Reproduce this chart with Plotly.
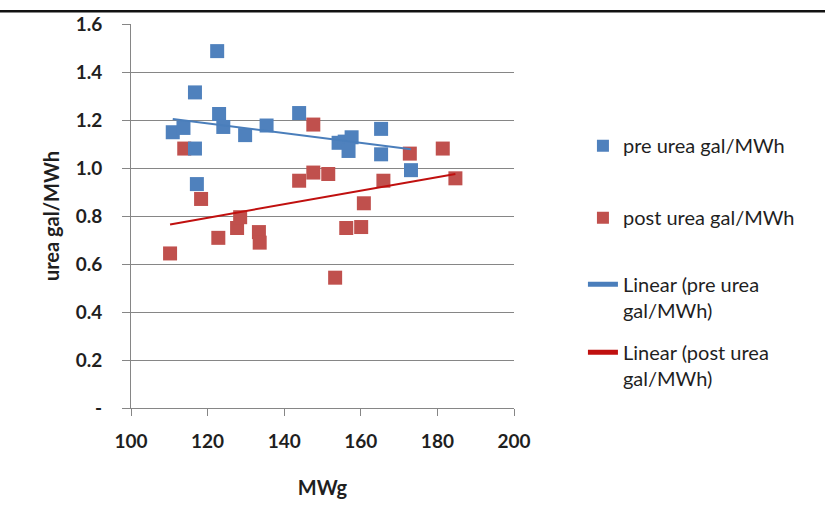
import numpy as np
import plotly.graph_objects as go

# --- data ---
pre_mwg = [110.9, 113.7, 116.7, 116.7, 117.2, 122.5, 123.0, 124.1, 129.8, 135.4,
           143.9, 154.2, 155.8, 156.8, 157.6, 165.3, 165.3, 173.1]
pre_urea = [1.149, 1.167, 1.315, 1.081, 0.933, 1.487, 1.225, 1.171, 1.137, 1.177,
            1.229, 1.105, 1.110, 1.071, 1.128, 1.163, 1.057, 0.991]

post_mwg = [110.2, 113.9, 118.3, 122.8, 127.7, 128.5, 133.4, 133.6, 143.9, 147.6,
            147.6, 151.5, 153.3, 156.2, 160.1, 160.8, 165.9, 172.8, 181.4, 184.7]
post_urea = [0.644, 1.081, 0.871, 0.709, 0.750, 0.795, 0.733, 0.689, 0.947, 1.181,
             0.981, 0.975, 0.543, 0.750, 0.754, 0.853, 0.947, 1.060, 1.081, 0.957]

y_ticks = [0, 0.2, 0.4, 0.6, 0.8, 1.0, 1.2, 1.4, 1.6]
y_tick_text = ["-", "0.2", "0.4", "0.6", "0.8", "1.0", "1.2", "1.4", "1.6"]
x_ticks = [100, 120, 140, 160, 180, 200]

names = ["pre urea gal/MWh", "post urea gal/MWh",
         "Linear (pre urea<br>gal/MWh)", "Linear (post urea<br>gal/MWh)"]

BLUE = "#4F81BD"
RED = "#C0504D"
BLUE_LINE = "#4A7EBB"
RED_LINE = "#C0100F"
FONT = "Lato, 'Open Sans', sans-serif"
TXT = "#1f1f1f"


def trend(xs, ys):
    slope, intercept = np.polyfit(xs, ys, 1)
    xx = np.array([min(xs), max(xs)])
    return xx, slope * xx + intercept


fig = go.Figure()

tx_pre, ty_pre = trend(pre_mwg, pre_urea)
tx_post, ty_post = trend(post_mwg, post_urea)

fig.add_trace(go.Scatter(x=post_mwg, y=post_urea, mode="markers", name=names[1],
                         legendgroup="b", legendrank=2, legend="legend",
                         marker=dict(symbol="square", size=14, color=RED)))
fig.add_trace(go.Scatter(x=pre_mwg, y=pre_urea, mode="markers", name=names[0],
                         legendgroup="a", legendrank=1, legend="legend",
                         marker=dict(symbol="square", size=14, color=BLUE)))
fig.add_trace(go.Scatter(x=tx_pre, y=ty_pre, mode="lines", name=names[2],
                         legendgroup="c", legendrank=3, legend="legend2",
                         line=dict(color=BLUE_LINE, width=2)))
fig.add_trace(go.Scatter(x=tx_post, y=ty_post, mode="lines", name=names[3],
                         legendgroup="d", legendrank=4, legend="legend2",
                         line=dict(color=RED_LINE, width=2)))

leg_common = dict(xanchor="left", yanchor="top",
                  font=dict(family=FONT, size=20, color=TXT),
                  valign="top", itemsizing="constant",
                  bgcolor="rgba(0,0,0,0)")

fig.update_layout(
    width=825, height=530,
    margin=dict(l=131, r=311, t=20, b=122),
    paper_bgcolor="white", plot_bgcolor="white",
    font=dict(family=FONT, color=TXT, size=19),
    showlegend=True,
    legend=dict(x=1.18, y=0.734, tracegroupgap=43, **leg_common),
    legend2=dict(x=1.18, y=0.373, tracegroupgap=13, **leg_common),
    xaxis=dict(range=[100, 200], tickvals=x_ticks, showgrid=False,
               showline=True, linecolor="#868686", linewidth=1,
               ticks="outside", ticklen=7, tickcolor="#868686",
               ticklabelstandoff=9,
               tickfont=dict(family=FONT, size=19, color=TXT, weight="bold"),
               title=dict(text="<b>MWg</b>", font=dict(family=FONT, size=20, color=TXT),
                          standoff=30),
               zeroline=False, fixedrange=True),
    yaxis=dict(range=[0, 1.6], tickvals=y_ticks, ticktext=y_tick_text,
               showgrid=True, gridcolor="#868686", gridwidth=1,
               showline=True, linecolor="#868686", linewidth=1,
               ticks="outside", ticklen=8, tickcolor="#868686",
               ticklabelstandoff=16,
               tickfont=dict(family=FONT, size=19, color=TXT, weight="bold"),
               title=dict(text="<b>urea gal/MWh</b>", font=dict(family=FONT, size=20, color=TXT),
                          standoff=10),
               zeroline=False, fixedrange=True),
    shapes=[dict(type="line", xref="paper", yref="paper",
                 x0=-0.36, x1=1.82, y0=1.0335, y1=1.0335,
                 line=dict(color="#111111", width=2.5))],
)

fig.write_html("out.html")
